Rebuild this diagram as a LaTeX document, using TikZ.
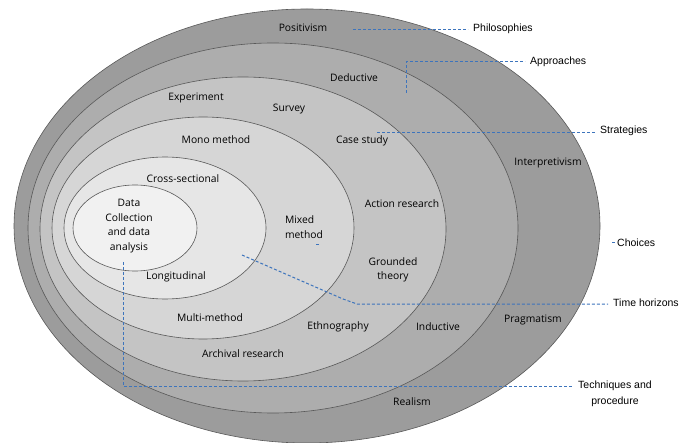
\documentclass[tikz,border=0pt]{standalone}
\usepackage{fontspec}
\setmainfont{Open Sans}
\newfontfamily\sidefont{Liberation Sans}
\usetikzlibrary{calc}

\definecolor{philofill}{HTML}{9C9C9C}
\definecolor{apprfill}{HTML}{ADADAD}
\definecolor{stratfill}{HTML}{C4C4C4}
\definecolor{choicefill}{HTML}{D6D6D6}
\definecolor{timefill}{HTML}{E6E6E6}
\definecolor{corefill}{HTML}{F1F1F1}
\definecolor{leadblue}{HTML}{3D74BC}

\begin{document}
\begin{tikzpicture}[x=1pt, y=-1pt,
    ring/.style={draw=black!65, line width=0.6pt},
    lbl/.style={font=\fontsize{10.3}{14.5}\selectfont, align=center, inner sep=0pt},
    side/.style={font=\sidefont\fontsize{10.5}{16}\selectfont, anchor=west,
                 align=center, inner sep=0pt},
    lead/.style={draw=leadblue, line width=1pt, dash pattern=on 3pt off 2pt,
                 shorten >=5pt}
]

\useasboundingbox (0,0) rectangle (679,443);
\fill[white] (0,0) rectangle (679,443);

%% Onion layers, outside in
\draw[ring, fill=philofill]  (307,226) ellipse [x radius=293pt, y radius=217pt];
\draw[ring, fill=apprfill]   (273,228) ellipse [x radius=245pt, y radius=185pt];
\draw[ring, fill=stratfill]  (243,229) ellipse [x radius=203pt, y radius=152pt];
\draw[ring, fill=choicefill] (203,228) ellipse [x radius=151pt, y radius=111pt];
\draw[ring, fill=timefill]   (165,228) ellipse [x radius=101pt, y radius=71pt];
\draw[ring, fill=corefill]   (135,228) ellipse [x radius=62pt,  y radius=43pt];

%% Layer labels
\node[lbl] (positivism) at (303, 28)  {Positivism};
\node[lbl] (interpret)  at (548,163)  {Interpretivism};
\node[lbl] (pragmatism) at (533,320)  {Pragmatism};
\node[lbl] (realism)    at (412,402)  {Realism};

\node[lbl] (deductive)  at (354, 78)  {Deductive};
\node[lbl] (inductive)  at (438,327)  {Inductive};

\node[lbl] (experiment) at (196, 98)  {Experiment};
\node[lbl] (survey)     at (289,109)  {Survey};
\node[lbl] (casestudy)  at (362,141)  {Case study};
\node[lbl] (action)     at (402,204)  {Action research};
\node[lbl] (grounded)   at (393,270)  {Grounded\\theory};
\node[lbl] (ethno)      at (338,327)  {Ethnography};
\node[lbl] (archival)   at (243,354)  {Archival research};

\node[lbl] (mono)       at (216,140)  {Mono method};
\node[lbl, align=left] (mixed) at (304,227) {Mixed\\method};
\node[lbl] (multi)      at (210,318)  {Multi-method};

\node[lbl] (crosssec)   at (183,179)  {Cross-sectional};
\node[lbl] (longit)     at (176,277)  {Longitudinal};

\node[lbl] (core)       at (129,226)  {Data\\Collection\\and data\\analysis};

%% Side captions
\node[side] (philo)  at (473, 29)  {Philosophies};
\node[side] (appr)   at (530, 62)  {Approaches};
\node[side] (strat)  at (600,131)  {Strategies};
\node[side] (choice) at (617,243)  {Choices};
\node[side] (timeh)  at (613,303)  {Time horizons};
\node[side] (techn)  at (578,394)  {Techniques and\\procedure};

%% Leader lines
\coordinate (philoA) at (353, 30);
\coordinate (apprA)  at (406, 93);
\coordinate (stratA) at (377,133);
\coordinate (choiceA) at (612,243);
\coordinate (timeA)  at (242,255);
\coordinate (timeB)  at (343,299);
\coordinate (timeC)  at (357,304);
\coordinate (technA) at (123,262);
\coordinate (mixedA) at (319,244);

\draw[lead] (philoA) -- (philoA -| philo.west);
\draw[lead] (apprA) |- (appr.west);
\draw[lead] (stratA) -- (stratA -| strat.west);
\draw[lead, shorten >=2pt] (choiceA) -- (choice.west);
\draw[lead, line width=0.6pt] (mixedA) -- ++(2,0);
\draw[lead] (timeA) -- (timeB) -- (timeC) -- (timeC -| timeh.west);
\draw[lead] (technA) |- ([yshift=8pt]techn.west);

\end{tikzpicture}
\end{document}
